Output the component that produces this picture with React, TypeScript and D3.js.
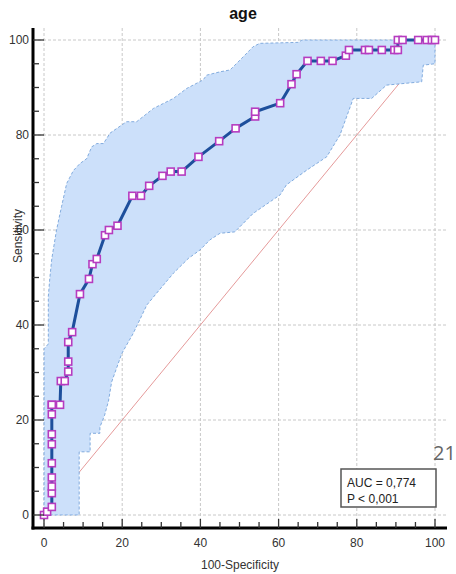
import React from "react";
import * as d3 from "d3";

const title = "age";
const xLabel = "100-Specificity";
const yLabel = "Sensitivity";
const majorTicks = [0, 20, 40, 60, 80, 100];
const minorTicks = d3.range(0, 101, 5);
const aucLines = ["AUC = 0,774", "P < 0,001"];
const sideNote = "21";

// ROC points (100-Specificity, Sensitivity)
const rocX = [0, 0.8, 2, 2, 2, 2, 2, 2, 2, 2, 2, 2, 4.1, 4.3, 5.3, 6.2, 6.2, 6.2, 7.2, 9.2, 11.5, 12.4, 13.5, 15.6, 16.6, 18.8, 22.6, 24.8, 26.9, 30.3, 32.4, 35.2, 39.5, 44.8, 49, 54, 54, 60.4, 63.3, 64.6, 67.4, 70.8, 73.8, 77.2, 78, 82.1, 83.1, 86.4, 89.6, 90.5, 90.5, 91.7, 95.7, 97.9, 99.2, 100];
const rocY = [0, 0.7, 1.7, 4.6, 6, 7.9, 10.9, 14.9, 17, 21.2, 23.2, 23.2, 23.2, 28.2, 28.2, 30.2, 32.3, 36.4, 38.5, 46.5, 49.7, 52.8, 53.9, 58.9, 60, 60.9, 67.2, 67.2, 69.3, 71.4, 72.3, 72.3, 75.4, 78.7, 81.4, 83.9, 84.9, 86.7, 90.7, 92.8, 95.6, 95.6, 95.6, 96.7, 97.9, 97.9, 97.9, 97.9, 97.9, 97.9, 100, 100, 100, 100, 100, 100];

// Confidence band upper edge (left to right)
const upperX = [0, 0, 1.1, 1.1, 1.5, 2, 3.2, 4.5, 5.8, 7.5, 9.2, 10.9, 12.2, 13.5, 15.2, 16.9, 21.1, 23.7, 28, 33.1, 36.5, 40.7, 41.6, 45, 47.6, 51, 53.5, 55.2, 65, 66, 100];
const upperY = [0, 35, 36, 46, 50, 54, 60, 65, 69.8, 72.5, 74, 75, 77.5, 78.2, 78.2, 80.4, 82.8, 82.8, 85.6, 87.7, 89.8, 91.6, 92.6, 93.3, 93.7, 96.5, 98.6, 99.3, 99.5, 100, 100];

// Confidence band lower edge (right to left)
const lowerX = [100, 97, 96.6, 87.6, 83.8, 79.1, 75.7, 72.3, 67.2, 62, 60.4, 53.5, 48.8, 45, 42.4, 39.9, 36.9, 33.1, 28.8, 26.3, 22.8, 19.9, 17.3, 16.5, 15.5, 14.3, 14.3, 11.8, 11.8, 9, 9, 0];
const lowerY = [95, 94.7, 91.2, 90.5, 87.7, 87.7, 80, 75.4, 72.6, 69.5, 67.4, 63.5, 59.6, 59.3, 57.9, 55.8, 54, 50.9, 46.7, 44.2, 38.2, 34, 28, 24, 21, 18.5, 17.2, 17.2, 13.3, 13.3, 0, 0];

const W = 456;
const H = 574;
const FONT = "'Liberation Sans', Arial, sans-serif";

export default function App() {
  const x = d3.scaleLinear().domain([0, 100]).range([44, 435]);
  const y = d3.scaleLinear().domain([0, 100]).range([515, 40]);
  const axisLeft = 33;
  const axisBottom = 528;
  const plotTop = 28;
  const plotRight = 447;

  const bandPts: [number, number][] = [
    ...upperX.map((v, i) => [v, upperY[i]] as [number, number]),
    ...lowerX.map((v, i) => [v, lowerY[i]] as [number, number]),
  ];
  const bandPath = d3
    .line<[number, number]>()
    .x((d) => x(d[0]))
    .y((d) => y(d[1]))
    .curve(d3.curveLinearClosed)(bandPts) as string;

  const rocPts = rocX.map((v, i) => [v, rocY[i]] as [number, number]);
  const rocPath = d3
    .line<[number, number]>()
    .x((d) => x(d[0]))
    .y((d) => y(d[1]))(rocPts) as string;

  const ms = 7;

  return (
    <svg
      width={W}
      height={H}
      style={{ position: "absolute", left: 0, top: 0, background: "#fff" }}
      fontFamily={FONT}
    >
      <rect x={0} y={0} width={W} height={H} fill="#fff" />
      {/* grid */}
      {majorTicks.map((t) => (
        <line
          key={"gx" + t}
          x1={x(t)}
          x2={x(t)}
          y1={plotTop}
          y2={axisBottom}
          stroke="#c8c8c8"
          strokeWidth={1}
          strokeDasharray="3,2"
        />
      ))}
      {majorTicks.map((t) => (
        <line
          key={"gy" + t}
          x1={axisLeft}
          x2={plotRight}
          y1={y(t)}
          y2={y(t)}
          stroke="#c8c8c8"
          strokeWidth={1}
          strokeDasharray="3,2"
        />
      ))}
      {/* diagonal reference */}
      <line
        x1={x(0)}
        y1={y(0)}
        x2={x(100)}
        y2={y(100)}
        stroke="#e59a9a"
        strokeWidth={1}
      />
      {/* confidence band */}
      <path d={bandPath} fill="#cce0fa" stroke="#6a9ad6" strokeWidth={0.8} strokeDasharray="3,2" />
      {/* ROC curve */}
      <path d={rocPath} fill="none" stroke="#1d4f9c" strokeWidth={3} strokeLinejoin="round" />
      {rocPts.map((p, i) => (
        <rect
          key={"m" + i}
          x={x(p[0]) - ms / 2}
          y={y(p[1]) - ms / 2}
          width={ms}
          height={ms}
          fill="#fff"
          stroke="#b63cc0"
          strokeWidth={1.6}
        />
      ))}
      {/* axes */}
      <line x1={axisLeft} x2={axisLeft} y1={plotTop} y2={axisBottom + 1.5} stroke="#000" strokeWidth={3} />
      <line x1={axisLeft - 1.5} x2={plotRight} y1={axisBottom} y2={axisBottom} stroke="#000" strokeWidth={3} />
      {minorTicks.map((t) => {
        const major = t % 20 === 0;
        return (
          <g key={"t" + t}>
            <line
              x1={axisLeft}
              x2={axisLeft + (major ? 11 : 6)}
              y1={y(t)}
              y2={y(t)}
              stroke="#333"
              strokeWidth={1.3}
            />
            <line
              x1={x(t)}
              x2={x(t)}
              y1={axisBottom}
              y2={axisBottom - (major ? 9 : 6)}
              stroke="#333"
              strokeWidth={1.3}
            />
          </g>
        );
      })}
      {majorTicks.map((t) => (
        <text
          key={"ly" + t}
          x={29}
          y={y(t)}
          dy="0.35em"
          textAnchor="end"
          fontSize={12}
          fill="#333"
        >
          {t}
        </text>
      ))}
      {majorTicks.map((t) => (
        <text key={"lx" + t} x={x(t)} y={547} textAnchor="middle" fontSize={12} fill="#333">
          {t}
        </text>
      ))}
      {/* titles */}
      <text x={243} y={19} textAnchor="middle" fontSize={16} fontWeight="bold" fill="#111">
        {title}
      </text>
      <text x={240} y={569} textAnchor="middle" fontSize={12} fill="#333">
        {xLabel}
      </text>
      <text
        transform={`translate(22,236) rotate(-90)`}
        textAnchor="middle"
        fontSize={12}
        fill="#333"
      >
        {yLabel}
      </text>
      {/* AUC box */}
      <rect x={341} y={469} width={95} height={38} fill="#fff" stroke="#555" strokeWidth={1.5} />
      <text x={347} y={487} fontSize={12} fill="#222">
        {aucLines[0]}
      </text>
      <text x={347} y={503} fontSize={12} fill="#222">
        {aucLines[1]}
      </text>
      <text x={433} y={460} fontSize={20} fill="#666" fontFamily="'Open Sans', sans-serif">
        {sideNote}
      </text>
    </svg>
  );
}
